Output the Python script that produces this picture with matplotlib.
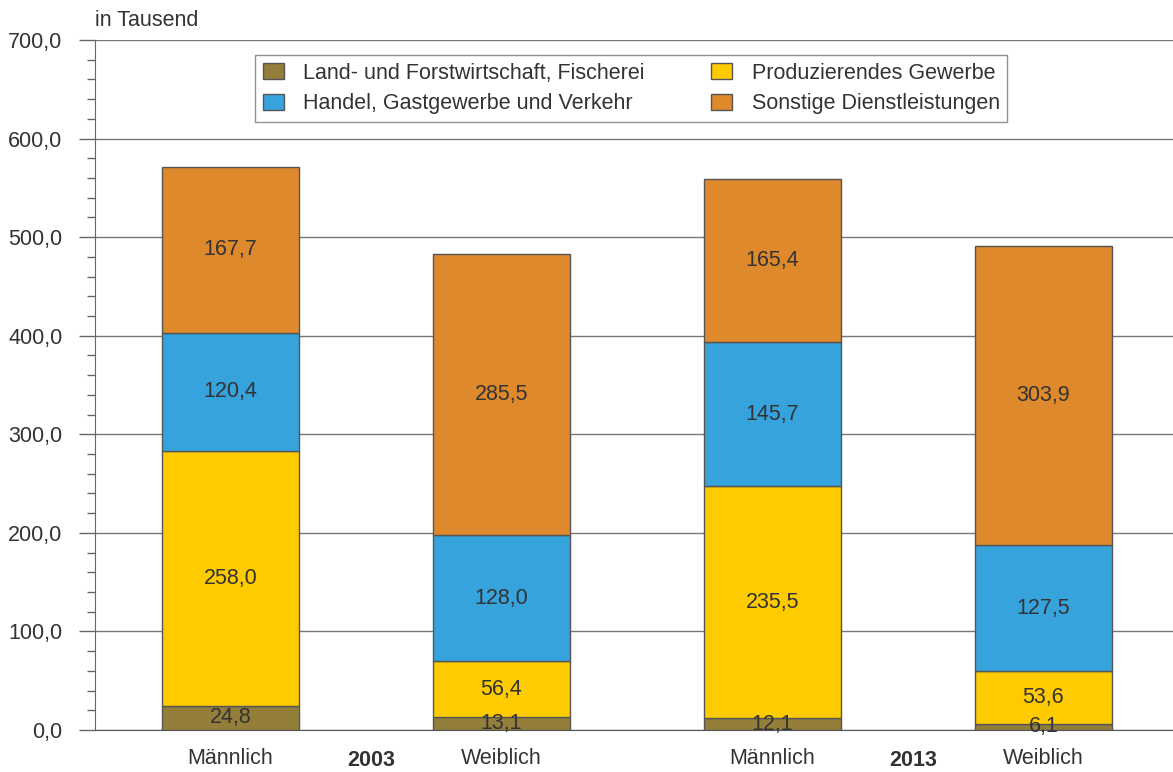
import numpy as np
import matplotlib.pyplot as plt
from matplotlib.ticker import FuncFormatter, MultipleLocator
from matplotlib.patches import Patch

plt.rcParams['font.family'] = ['Liberation Sans', 'DejaVu Sans']

groups = ["Männlich", "Weiblich", "Männlich", "Weiblich"]
years = ["2003", "2013"]
sectors = ["Land- und Forstwirtschaft, Fischerei", "Produzierendes Gewerbe",
           "Handel, Gastgewerbe und Verkehr", "Sonstige Dienstleistungen"]
land = [24.8, 13.1, 12.1, 6.1]
produz = [258.0, 56.4, 235.5, 53.6]
handel = [120.4, 128.0, 145.7, 127.5]
sonstige = [167.7, 285.5, 165.4, 303.9]
colors = ["#937E3A", "#FECB00", "#36A3DC", "#DE892C"]

series = [land, produz, handel, sonstige]
fs = 15.5

fig = plt.figure(figsize=(11.73, 7.72), dpi=100)
ax = fig.add_axes([95/1173, 42/772, 1 - 95/1173, 690/772])

x = np.arange(len(groups))
bottom = np.zeros(len(groups))
for vals, col in zip(series, colors):
    vals = np.array(vals)
    ax.bar(x, vals, 0.505, bottom=bottom, color=col, edgecolor="#555555", linewidth=1, zorder=3)
    for xi, b, v in zip(x, bottom, vals):
        ax.text(xi, b + v / 2, f"{v:.1f}".replace(".", ","), ha="center", va="center",
                fontsize=fs, color="#333333", zorder=4)
    bottom += vals

ax.set_xlim(-0.5, 3.478)
ax.set_ylim(0, 700)
ax.yaxis.set_major_locator(MultipleLocator(100))
ax.yaxis.set_minor_locator(MultipleLocator(20))
ax.yaxis.set_major_formatter(FuncFormatter(lambda v, p: f"{v:.1f}".replace(".", ",")))
ax.tick_params(axis="y", which="major", length=11.5, width=1, color="#666666", labelsize=fs,
               labelcolor="#333333", pad=12)
ax.tick_params(axis="y", which="minor", length=5.8, width=1, color="#666666")
ax.grid(axis="y", which="major", color="#777777", linewidth=1, zorder=0)
ax.set_xticks([])
for s in ["top", "right"]:
    ax.spines[s].set_visible(False)
ax.spines["left"].set_color("#666666")
ax.spines["bottom"].set_color("#555555")

for xi, g in zip(x, groups):
    ax.text(xi, -29, g, ha="center", va="center", fontsize=fs, color="#333333")
for i, yr in enumerate(years):
    ax.text(2 * i + 0.52, -30.5, yr, ha="center", va="center", fontsize=fs,
            fontweight="bold", color="#333333")

ax.text(0, 1.013, "in Tausend", transform=ax.transAxes, fontsize=fs, color="#333333",
        ha="left", va="bottom")

order = [0, 2, 1, 3]
handles = [Patch(facecolor=colors[i], edgecolor="#555555", label=sectors[i]) for i in order]
leg = fig.legend(handles=handles, ncol=2, loc="upper left", bbox_to_anchor=(255/1173, 1 - 55/772),
                 borderaxespad=0, fontsize=fs, frameon=True, fancybox=False, edgecolor="#777777",
                 handlelength=1.0, handleheight=0.8, columnspacing=3.05, labelspacing=0.45,
                 borderpad=0.35, handletextpad=0.9, labelcolor="#333333")
leg.get_frame().set_linewidth(1)

fig.savefig("out.png", dpi=100)
